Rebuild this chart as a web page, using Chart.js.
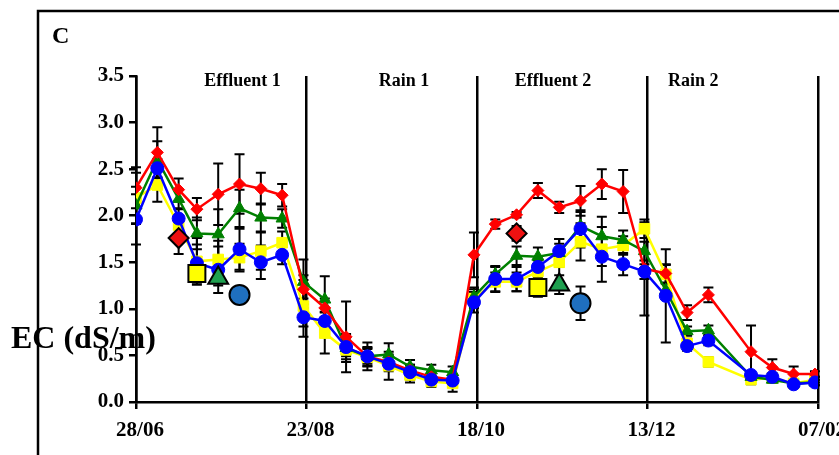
<!DOCTYPE html>
<html>
<head>
<meta charset="utf-8">
<title>EC (dS/m)</title>
<script src="https://cdn.jsdelivr.net/npm/chart.js@4.4.0/dist/chart.umd.min.js"></script>
<style>
  html, body { margin: 0; padding: 0; background: #fff; }
  #wrap { width: 839px; height: 455px; }
</style>
</head>
<body>
<div id="wrap"><canvas id="ec-chart" width="839" height="455"></canvas></div>
<script>
// sampling days, counted from 28/06
const days = [0, 7, 14, 20, 27, 34, 41, 48, 55, 62, 69, 76, 83, 90, 97, 104,
              111, 118, 125, 132, 139, 146, 153, 160, 167, 174, 181, 188, 202, 209, 216, 223];

const redVals = [2.30, 2.68, 2.28, 2.07, 2.23, 2.34, 2.29, 2.22, 1.21, 1.01, 0.70, 0.49, 0.43, 0.34, 0.27, 0.24,
                 1.58, 1.91, 2.01, 2.27, 2.09, 2.16, 2.34, 2.26, 1.43, 1.38, 0.96, 1.15, 0.54, 0.37, 0.30, 0.30];
const yellowVals = [2.19, 2.33, 1.90, 1.51, 1.53, 1.55, 1.62, 1.71, 1.03, 0.74, 0.56, 0.48, 0.39, 0.29, 0.22, 0.20,
                    1.11, 1.29, 1.29, 1.40, 1.50, 1.72, 1.64, 1.68, 1.86, 1.37, 0.63, 0.43, 0.24, 0.26, 0.20, 0.24];
const greenVals = [2.11, 2.60, 2.18, 1.81, 1.80, 2.08, 1.98, 1.97, 1.29, 1.10, 0.58, 0.49, 0.51, 0.38, 0.34, 0.32,
                   1.13, 1.37, 1.57, 1.56, 1.60, 1.89, 1.78, 1.74, 1.62, 1.20, 0.76, 0.77, 0.27, 0.24, 0.20, 0.21];
const blueVals = [1.96, 2.51, 1.97, 1.49, 1.42, 1.64, 1.50, 1.58, 0.91, 0.87, 0.59, 0.49, 0.41, 0.32, 0.24, 0.23,
                  1.07, 1.32, 1.32, 1.45, 1.62, 1.86, 1.56, 1.48, 1.40, 1.14, 0.60, 0.66, 0.29, 0.27, 0.19, 0.21];

// standard errors
const redErr = [0.22, 0.27, 0.12, 0.12, 0.33, 0.32, 0.17, 0.12, 0.10, 0.10, 0.38, 0.10, 0.08, 0.06, 0.05, 0.05,
                0.24, 0.05, 0.03, 0.08, 0.06, 0.16, 0.16, 0.23, 0.50, 0.10, 0.08, 0.08, 0.28, 0.09, 0.08, 0.03];
const yellowErr = [0.27, 0.18, 0.10, 0.25, 0.20, 0.15, 0.20, 0.12, 0.33, 0.22, 0.10, 0.10, 0.15, 0.08, 0.06, 0.09,
                   0.10, 0.10, 0.10, 0.12, 0.25, 0.20, 0.35, 0.10, 0.10, 0.10, 0.05, 0.05, 0.05, 0.05, 0.03, 0.03];
const greenErr = [0.20, 0.20, 0.10, 0.17, 0.27, 0.20, 0.15, 0.10, 0.24, 0.25, 0.15, 0.15, 0.12, 0.07, 0.06, 0.06,
                  0.10, 0.08, 0.10, 0.10, 0.15, 0.15, 0.10, 0.10, 0.10, 0.08, 0.05, 0.05, 0.03, 0.03, 0.03, 0.03];
const blueErr = [0.27, 0.10, 0.10, 0.20, 0.25, 0.22, 0.18, 0.10, 0.10, 0.10, 0.10, 0.08, 0.08, 0.08, 0.06, 0.06,
                 0.11, 0.14, 0.13, 0.08, 0.08, 0.20, 0.10, 0.12, 0.08, 0.50, 0.05, 0.05, 0.03, 0.03, 0.03, 0.03];

// single large markers (one per period of effluent)
const extraRedDays = [14, 125];
const extraRedVals = [1.76, 1.81];
const extraRedErr = [0.17, 0.08];
const extraYellowDays = [20, 132];
const extraYellowVals = [1.38, 1.23];
const extraYellowErr = [0.10, 0.10];
const extraGreenDays = [27, 139];
const extraGreenVals = [1.33, 1.26];
const extraGreenErr = [0.08, 0.10];
const extraBlueDays = [34, 146];
const extraBlueVals = [1.15, 1.06];
const extraBlueErr = [0.08, 0.18];

const xTickDays = [0, 56, 112, 168, 224];
const xTickLabels = ['28/06', '23/08', '18/10', '13/12', '07/02'];

const periodLabels = ['Effluent 1', 'Rain 1', 'Effluent 2', 'Rain 2'];
const periodDays = [35, 88, 137, 183];
const periodLevel = 3.39;

const panelLetter = 'C';
const yTitle = 'EC (dS/m)';

const serif = '"Liberation Serif", "Times New Roman", serif';

function pts(xs, ys) {
    return xs.map((d, i) => ({ x: d, y: ys[i] }));
}

function series(vals, errs, color, style, radius, order) {
    return {
        data: pts(days, vals),
        errors: errs,
        showLine: true,
        borderColor: color,
        backgroundColor: color,
        borderWidth: 2.5,
        pointStyle: style,
        pointRadius: radius,
        pointBorderWidth: 1,
        pointBorderColor: color,
        pointBackgroundColor: color,
        tension: 0,
        order: order
    };
}

function bigMarker(xs, ys, errs, color, style, radius) {
    return {
        data: pts(xs, ys),
        errors: errs,
        showLine: false,
        pointStyle: style,
        pointRadius: radius,
        pointBorderWidth: 2,
        pointBorderColor: '#000',
        pointBackgroundColor: color,
        order: 0
    };
}

const errorBars = {
    id: 'errorBars',
    beforeDatasetsDraw(chart) {
        const { ctx, scales: { x, y } } = chart;
        ctx.save();
        ctx.strokeStyle = '#000';
        ctx.lineWidth = 2;
        chart.data.datasets.forEach(ds => {
            if (!ds.errors) return;
            ds.data.forEach((p, i) => {
                const e = ds.errors[i];
                if (!e) return;
                const px = x.getPixelForValue(p.x);
                const top = y.getPixelForValue(p.y + e);
                const bot = y.getPixelForValue(Math.max(p.y - e, 0));
                ctx.beginPath();
                ctx.moveTo(px, top);
                ctx.lineTo(px, bot);
                ctx.moveTo(px - 5, top);
                ctx.lineTo(px + 5, top);
                ctx.moveTo(px - 5, bot);
                ctx.lineTo(px + 5, bot);
                ctx.stroke();
            });
        });
        ctx.restore();
    }
};

const annotations = {
    id: 'annotations',
    afterDraw(chart) {
        const { ctx, scales: { x, y } } = chart;
        ctx.save();
        // panel frame
        ctx.strokeStyle = '#000';
        ctx.lineWidth = 2.5;
        ctx.strokeRect(38, 11, 900, 600);

        ctx.fillStyle = '#000';
        ctx.textBaseline = 'alphabetic';
        ctx.textAlign = 'left';
        ctx.font = 'bold 24px ' + serif;
        ctx.fillText(panelLetter, 52, 43);

        ctx.font = 'bold 32px ' + serif;
        ctx.fillText(yTitle, 11, 348);

        ctx.font = 'bold 18px ' + serif;
        ctx.textAlign = 'center';
        periodLabels.forEach((t, i) => {
            ctx.fillText(t, x.getPixelForValue(periodDays[i]), y.getPixelForValue(periodLevel));
        });
        ctx.restore();
    }
};

new Chart(document.getElementById('ec-chart'), {
    type: 'scatter',
    data: {
        datasets: [
            series(yellowVals, yellowErr, '#ffff00', 'rect', 7.5, 4),
            series(greenVals, greenErr, '#008000', 'triangle', 7, 3),
            series(redVals, redErr, '#ff0000', 'rectRot', 6, 2),
            series(blueVals, blueErr, '#0000ff', 'circle', 6.5, 1),
            bigMarker(extraRedDays, extraRedVals, extraRedErr, '#ee1111', 'rectRot', 10),
            bigMarker(extraYellowDays, extraYellowVals, extraYellowErr, '#ffff00', 'rect', 12),
            bigMarker(extraGreenDays, extraGreenVals, extraGreenErr, '#1fa050', 'triangle', 11.5),
            bigMarker(extraBlueDays, extraBlueVals, extraBlueErr, '#1f6fbf', 'circle', 10)
        ]
    },
    options: {
        responsive: false,
        animation: false,
        layout: { padding: { left: 0, right: 21, top: 76, bottom: 0 } },
        plugins: {
            legend: { display: false },
            tooltip: { enabled: false }
        },
        scales: {
            x: {
                type: 'linear',
                min: 0,
                max: 224,
                afterBuildTicks: scale => {
                    scale.ticks = xTickDays.map(v => ({ value: v }));
                },
                afterFit: scale => {
                    scale.height = 53;
                    scale.paddingLeft = 0;
                    scale.paddingRight = 0;
                },
                ticks: {
                    autoSkip: false,
                    maxRotation: 0,
                    color: '#000',
                    padding: 9,
                    labelOffset: 4,
                    font: { family: serif, size: 21, weight: 'bold' },
                    callback: v => xTickLabels[xTickDays.indexOf(v)]
                },
                grid: {
                    color: '#000',
                    lineWidth: 2.5,
                    drawOnChartArea: true,
                    drawTicks: true,
                    tickLength: 7
                },
                border: { color: '#000', width: 2.5 }
            },
            y: {
                min: 0,
                max: 3.5,
                afterFit: scale => {
                    scale.width = 136;
                },
                ticks: {
                    stepSize: 0.5,
                    color: '#000',
                    padding: 5,
                    font: { family: serif, size: 21, weight: 'bold' },
                    callback: v => v.toFixed(1)
                },
                grid: {
                    color: '#000',
                    lineWidth: 2.5,
                    drawOnChartArea: false,
                    drawTicks: true,
                    tickLength: 7
                },
                border: { color: '#000', width: 2.5 }
            }
        }
    },
    plugins: [errorBars, annotations]
});
</script>
</body>
</html>
